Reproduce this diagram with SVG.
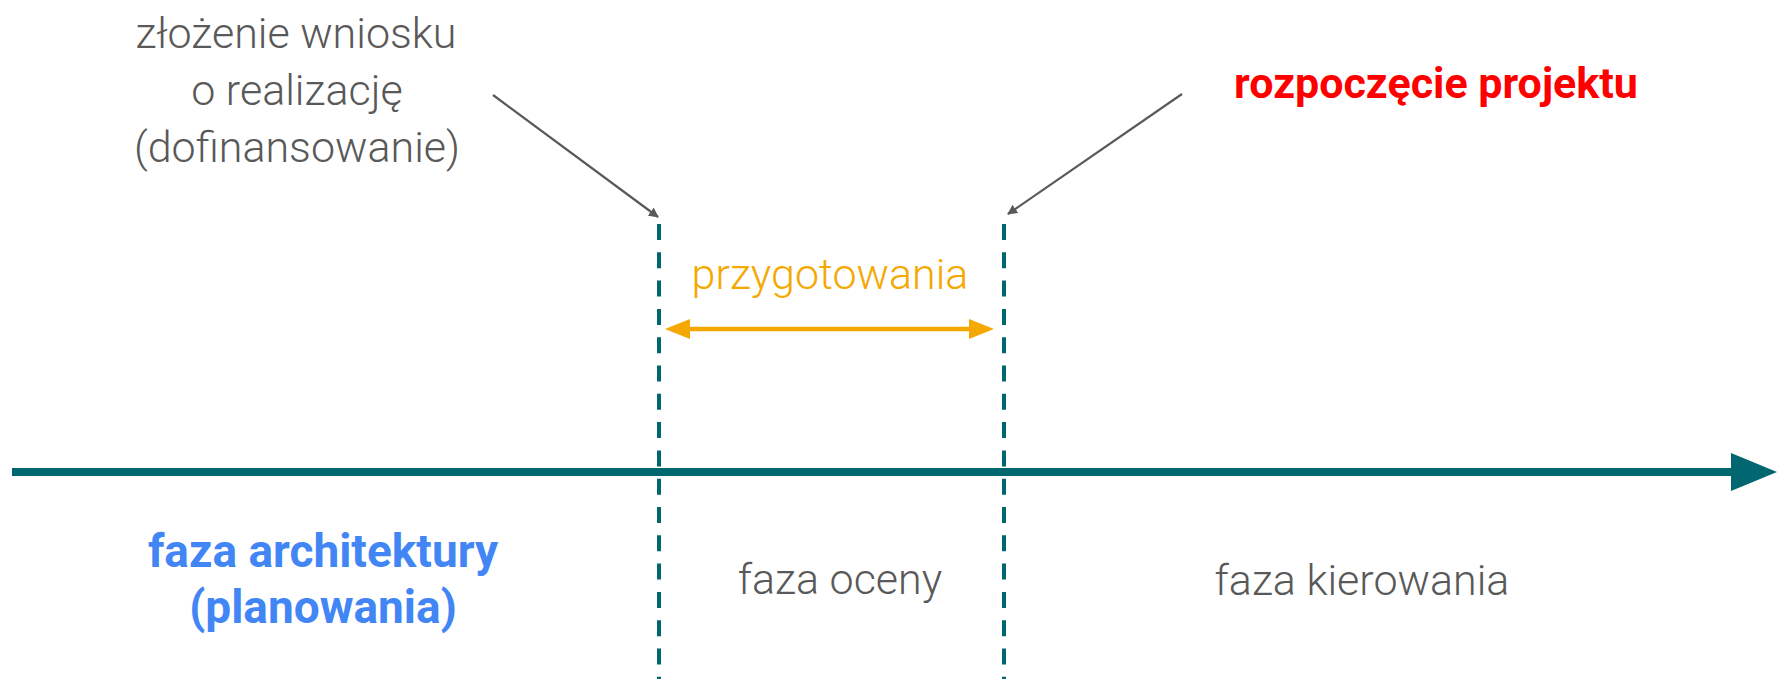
<svg xmlns="http://www.w3.org/2000/svg" width="1777" height="679" viewBox="0 0 1777 679">
<style>
.lt{font-family:Roboto,"Liberation Sans",sans-serif;font-weight:300;font-size:43px;fill:#595959;text-anchor:middle}
.bd{font-family:Roboto,"Liberation Sans",sans-serif;font-weight:700;font-size:43px;text-anchor:middle}
.dash{stroke:#00666f;stroke-width:4;stroke-dasharray:16 12.3;fill:none}
.ptr{stroke:#595959;stroke-width:2.2;fill:none}
</style>
<defs>
<marker id="ah" markerWidth="10" markerHeight="10" refX="9" refY="5" orient="auto" markerUnits="userSpaceOnUse" viewBox="0 0 10 10">
<path d="M0,0 L10,5 L0,10 Z" fill="#595959"/>
</marker>
</defs>
<rect width="1777" height="679" fill="#ffffff"/>
<g id="connectors">
<line x1="12" y1="472" x2="1735" y2="472" stroke="#00666f" stroke-width="8"/>
<polygon points="1731,453 1777,472 1731,491" fill="#00666f"/>
<line class="dash" x1="659" y1="224" x2="659" y2="679"/>
<line class="dash" x1="1004" y1="224" x2="1004" y2="679"/>
<line class="ptr" x1="493" y1="95" x2="658" y2="217" marker-end="url(#ah)"/>
<line class="ptr" x1="1182" y1="94" x2="1008" y2="214" marker-end="url(#ah)"/>
<line x1="685" y1="329" x2="975" y2="329" stroke="#f4a800" stroke-width="4.5"/>
<polygon points="665,329 690,319 690,339" fill="#f4a800"/>
<polygon points="994,329 969,319 969,339" fill="#f4a800"/>
</g>
<g id="node-wniosek">
<text class="lt" x="296" y="48">złożenie wniosku</text>
<text class="lt" x="297" y="105">o realizację</text>
<text class="lt" x="297" y="162">(dofinansowanie)</text>
</g>
<g id="node-rozpoczecie">
<text class="bd" x="1436" y="98" fill="#ff0000">rozpoczęcie projektu</text>
</g>
<g id="node-przygotowania">
<text class="lt" x="830" y="289" style="fill:#f4a800">przygotowania</text>
</g>
<g id="node-architektury">
<text class="bd" x="323" y="567" fill="#4285f4" style="font-size:46px">faza architektury</text>
<text class="bd" x="323" y="623" fill="#4285f4" style="font-size:46px">(planowania)</text>
</g>
<g id="node-oceny">
<text class="lt" x="840" y="594">faza oceny</text>
</g>
<g id="node-kierowania">
<text class="lt" x="1362" y="595">faza kierowania</text>
</g>
</svg>
